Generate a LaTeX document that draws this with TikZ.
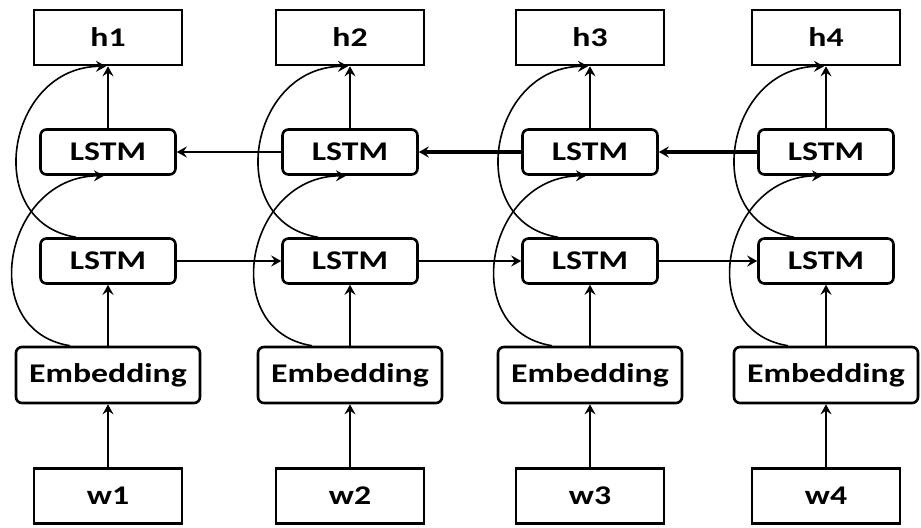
\documentclass[tikz,border=0pt]{standalone}
\usepackage{fontspec}
\newfontfamily\lblfont[FakeStretch=1.25]{Carlito}
\usetikzlibrary{arrows.meta}

\tikzset{
  box/.style={draw, line width=1.3pt, inner sep=0pt, anchor=center,
    font=\lblfont\bfseries\fontsize{13.5}{15}\selectfont},
  iobox/.style={box, minimum width=74pt, minimum height=27.5pt},
  cellbox/.style={box, rounded corners=3pt, minimum width=67.5pt, minimum height=22.5pt},
  embbox/.style={box, rounded corners=3pt, minimum width=92pt, minimum height=28pt},
  flow/.style={line width=1.1pt, -{Stealth[length=5pt,width=5.5pt,inset=1.8pt]}},
  thickflow/.style={flow, line width=1.8pt},
  skip/.style={line width=0.8pt, -{Stealth[length=5pt,width=5.5pt,inset=1.8pt]}}
}

\begin{document}
\begin{tikzpicture}[x=0.5pt,y=-0.5pt]
  \useasboundingbox (0,0) rectangle (921,527);

  % four time steps, one column each
  \foreach \i/\c in {1/108, 2/350, 3/590, 4/826} {
    \node[iobox]   (h\i) at (\c,37.5) {h\i};
    \node[cellbox] (t\i) at (\c,152)  {LSTM};
    \node[cellbox] (b\i) at (\c,261)  {LSTM};
    \node[embbox]  (e\i) at (\c,375)  {Embedding};
    \node[iobox]   (w\i) at (\c,496)  {w\i};

    % straight upward flow
    \draw[flow] (w\i.north) -- (e\i.south);
    \draw[flow] (e\i.north) -- (b\i.south);
    \draw[flow] (t\i.north) -- (h\i.south);

    % skip connections bending round the left side
    \draw[skip] ([xshift=-19pt]e\i.north)
      .. controls +(-95,-15) and +(-100,0) .. ([xshift=-2pt]t\i.south);
    \draw[skip] ([xshift=-16pt]b\i.north)
      .. controls +(-95,-15) and +(-100,0) .. ([xshift=-1pt]h\i.south);
  }

  % forward recurrence (lower layer)
  \draw[flow, line width=1.4pt] (b1.east) -- (b2.west);
  \draw[flow, line width=1.4pt] (b2.east) -- (b3.west);
  \draw[flow, line width=1.4pt] (b3.east) -- (b4.west);

  % backward recurrence (upper layer)
  \draw[flow] (t2.west) -- (t1.east);
  \draw[thickflow] (t3.west) -- (t2.east);
  \draw[thickflow] (t4.west) -- (t3.east);
\end{tikzpicture}
\end{document}
